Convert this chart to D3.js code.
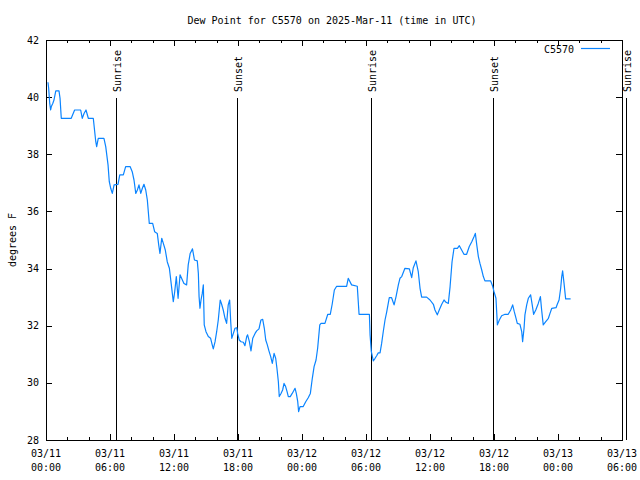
<!DOCTYPE html>
<html><head><meta charset="utf-8">
<script src="https://cdn.jsdelivr.net/npm/d3@7"></script>
<style>body{margin:0;background:#fff}svg{display:block}text{font-family:"DejaVu Sans Mono",monospace;font-size:10px;fill:#000}</style>
</head><body>
<svg id="c" width="640" height="480"></svg>
<script>
// minutes since 2025-03-11 00:00 UTC
const minutes = [11,15,21,26,30,38,45,55,73,79,86,142,161,195,204,214,225,238,266,274,280,285,294,326,336,349,356,364,373,383,405,415,435,448,473,485,495,505,514,523,533,542,551,561,570,581,600,611,626,634,641,651,660,671,682,694,705,716,724,733,743,754,767,776,791,800,811,824,835,851,857,861,866,872,879,885,890,900,913,926,935,941,951,960,969,980,988,997,1007,1016,1025,1033,1039,1045,1054,1063,1073,1078,1087,1097,1110,1119,1129,1134,1144,1153,1163,1176,1185,1198,1209,1219,1228,1236,1245,1254,1264,1273,1283,1292,1299,1307,1312,1322,1331,1339,1348,1356,1363,1374,1385,1401,1408,1416,1421,1429,1447,1461,1475,1487,1498,1508,1519,1528,1540,1547,1569,1585,1599,1610,1622,1635,1691,1700,1719,1751,1761,1819,1823,1830,1841,1851,1860,1869,1879,1888,1897,1907,1916,1931,1944,1958,1969,1982,1991,2001,2019,2044,2057,2066,2081,2094,2104,2113,2141,2160,2179,2188,2201,2212,2226,2239,2250,2263,2273,2284,2295,2314,2325,2338,2351,2366,2381,2395,2408,2415,2423,2432,2441,2451,2460,2469,2501,2513,2520,2531,2539,2550,2563,2582,2600,2614,2625,2634,2644,2651,2666,2676,2681,2689,2694,2704,2713,2726,2735,2743,2755,2769,2781,2788,2797,2811,2826,2835,2845,2869,2876,2886,2895,2901,2906,2914,2923,2951];
const dewPoint = [40.52,40.31,39.78,39.55,39.67,39.78,39.9,40.22,40.22,39.96,39.26,39.26,39.55,39.55,39.26,39.43,39.55,39.26,39.26,38.79,38.44,38.27,38.56,38.56,38.27,37.63,37.04,36.81,36.63,36.93,36.95,37.28,37.28,37.57,37.57,37.39,37.1,36.63,36.75,36.93,36.63,36.81,36.95,36.75,36.4,35.58,35.58,35.29,35.23,34.83,34.53,35.06,34.88,34.65,34.24,34.01,33.43,32.84,33.19,33.72,32.96,33.78,33.6,33.48,33.43,34.13,34.53,34.69,34.3,34.27,33.83,33.02,32.61,32.9,33.13,33.43,32.03,31.79,31.62,31.56,31.33,31.19,31.44,31.79,32.2,32.9,32.75,32.55,32.26,32.08,32.73,32.9,32.14,31.56,31.73,31.91,31.93,31.73,31.5,31.44,31.42,31.3,31.62,31.68,31.44,31.12,31.56,31.73,31.82,31.89,32.2,32.22,31.91,31.5,31.33,31.12,30.92,30.68,31.03,30.86,30.51,30.04,29.52,29.63,29.75,29.98,29.87,29.69,29.52,29.52,29.63,29.81,29.63,29.34,28.99,29.17,29.17,29.34,29.48,29.63,30.16,30.57,30.8,31.21,32.03,32.08,32.08,32.4,32.4,32.76,33.25,33.38,33.38,33.66,33.43,33.38,32.4,32.4,31.68,31.09,30.77,30.86,30.95,31.05,31.05,31.38,31.79,32.2,32.47,32.98,32.98,32.73,33.02,33.43,33.66,33.72,34.01,33.99,33.68,34.03,34.27,33.89,33.31,33.0,33.0,32.9,32.75,32.55,32.38,32.55,32.75,32.9,32.82,32.78,33.37,34.24,34.71,34.71,34.8,34.65,34.5,34.5,34.77,34.94,35.12,35.23,34.83,34.42,34.18,33.95,33.72,33.57,33.57,33.37,33.19,32.96,32.03,32.2,32.35,32.4,32.4,32.55,32.73,32.49,32.26,32.08,32.05,31.79,31.44,31.91,32.38,32.73,32.96,33.08,32.73,32.4,32.55,32.78,33.02,32.55,32.03,32.14,32.26,32.43,32.61,32.63,32.75,32.9,33.31,33.72,33.92,33.48,32.94,32.94];
const sunEvents = [
  {label:"Sunrise", time:"2025-03-11T06:35:00Z"},
  {label:"Sunset",  time:"2025-03-11T17:56:00Z"},
  {label:"Sunrise", time:"2025-03-12T06:30:00Z"},
  {label:"Sunset",  time:"2025-03-12T17:56:00Z"},
  {label:"Sunrise", time:"2025-03-13T06:21:00Z"}
];
const yTicks = [28,30,32,34,36,38,40,42];
const titleText = "Dew Point for C5570 on 2025-Mar-11 (time in UTC)";
const yLabel = "degrees F";
const seriesName = "C5570";

const start = new Date(Date.UTC(2025,2,11,0,0));
const end = new Date(Date.UTC(2025,2,13,6,0));
const L=46,R=622,T=40,B=440;
const svg = d3.select("#c");
const x = d3.scaleUtc().domain([start,end]).range([L,R]);
const y = d3.scaleLinear().domain([28,42]).range([B,T]);
const data = minutes.map((m,i)=>({t:new Date(start.getTime()+m*60000), v:dewPoint[i]}));

const majors = d3.utcHour.every(6).range(start, new Date(end.getTime()+1));
const minors = d3.utcHour.every(2).range(start, new Date(end.getTime()+1)).filter(d=>d.getUTCHours()%6!==0);

// ticks
const g = svg.append("g").attr("stroke","#000").attr("stroke-width",1).attr("shape-rendering","crispEdges");
majors.forEach(d=>{const px=Math.round(x(d))+0.5;
  g.append("line").attr("x1",px).attr("x2",px).attr("y1",B).attr("y2",B-6);
  g.append("line").attr("x1",px).attr("x2",px).attr("y1",T).attr("y2",T+6);});
minors.forEach(d=>{const px=Math.round(x(d))+0.5;
  g.append("line").attr("x1",px).attr("x2",px).attr("y1",B).attr("y2",B-3);
  g.append("line").attr("x1",px).attr("x2",px).attr("y1",T).attr("y2",T+3);});
yTicks.forEach(v=>{const py=Math.round(y(v))+0.5;
  g.append("line").attr("x1",L).attr("x2",L+6).attr("y1",py).attr("y2",py);
  g.append("line").attr("x1",R).attr("x2",R-6).attr("y1",py).attr("y2",py);});

// tick labels
const fmtD = d3.utcFormat("%m/%d"), fmtH = d3.utcFormat("%H:%M");
majors.forEach(d=>{
  const t = svg.append("text").attr("text-anchor","middle");
  t.append("tspan").attr("x",x(d)).attr("y",457).text(fmtD(d));
  t.append("tspan").attr("x",x(d)).attr("y",471).text(fmtH(d));
});
yTicks.forEach(v=>{
  svg.append("text").attr("x",39).attr("y",y(v)).attr("dy","0.35em").attr("text-anchor","end").text(v);
});

// sun events
sunEvents.forEach(e=>{
  const px = Math.round(x(new Date(e.time)))+0.5;
  svg.append("line").attr("x1",px).attr("x2",px).attr("y1",98).attr("y2",B)
    .attr("stroke","#000").attr("stroke-width",1).attr("shape-rendering","crispEdges");
  svg.append("text").attr("transform",`translate(${px+1},92) rotate(-90)`)
    .attr("text-anchor","start").attr("dy","0.35em").text(e.label);
});

// series line
const line = d3.line().x(d=>x(d.t)).y(d=>y(d.v));
svg.append("path").datum(data).attr("d",line).attr("fill","none")
  .attr("stroke","#0a84ff").attr("stroke-width",1.2).attr("stroke-linejoin","round");

// frame
svg.append("rect").attr("x",L+0.5).attr("y",T+0.5).attr("width",R-L).attr("height",B-T)
  .attr("fill","none").attr("stroke","#000").attr("shape-rendering","crispEdges");

// legend
svg.append("text").attr("x",574).attr("y",49).attr("dy","0.35em").attr("text-anchor","end").text(seriesName);
svg.append("line").attr("x1",581).attr("x2",610).attr("y1",48.5).attr("y2",48.5).attr("stroke","#0a84ff").attr("stroke-width",1.2);

// title & axis label
svg.append("text").attr("x",332).attr("y",20).attr("dy","0.35em").attr("text-anchor","middle").text(titleText);
svg.append("text").attr("transform","translate(12,240) rotate(-90)").attr("dy","0.35em").attr("text-anchor","middle").text(yLabel);
</script>
</body></html>
